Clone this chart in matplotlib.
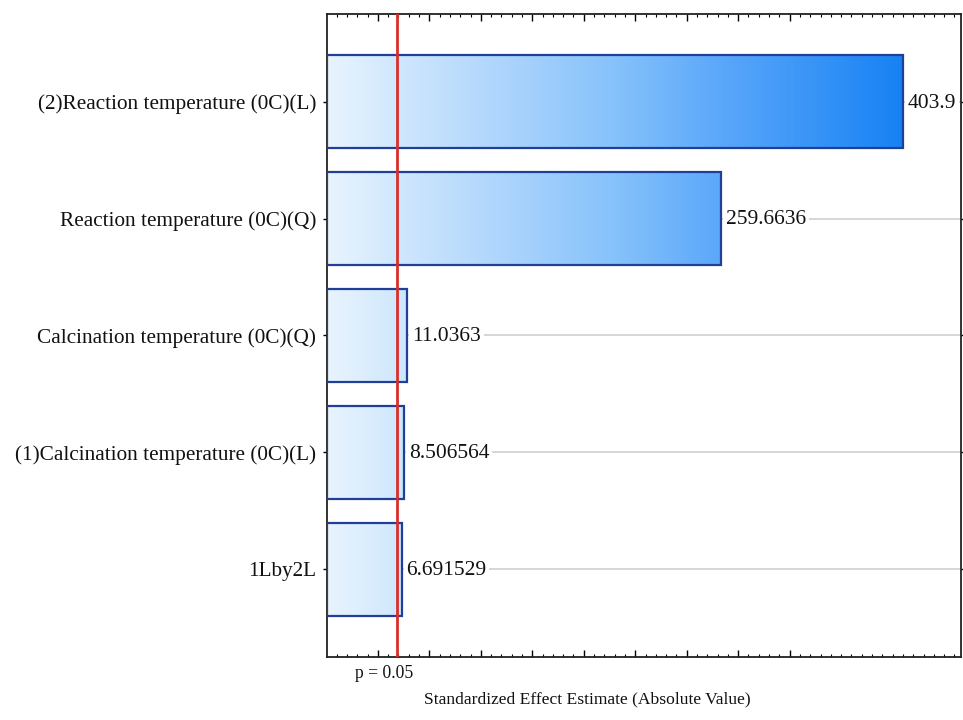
import numpy as np
import matplotlib
matplotlib.use("Agg")
import matplotlib.pyplot as plt
from matplotlib.colors import LinearSegmentedColormap
from matplotlib.ticker import AutoMinorLocator

categories = [
    "(2)Reaction temperature (0C)(L)",
    "Reaction temperature (0C)(Q)",
    "Calcination temperature (0C)(Q)",
    "(1)Calcination temperature (0C)(L)",
    "1Lby2L",
]
effects = [403.9, 259.6636, 11.0363, 8.506564, 6.691529]
value_labels = ["403.9", "259.6636", "11.0363", "8.506564", "6.691529"]
p_crit = 3.0

plt.rcParams['font.family'] = ['Liberation Serif', 'DejaVu Serif']

fig = plt.figure(figsize=(9.63, 7.2), dpi=100)
ax = fig.add_axes([327/963, 1-657/720, (961-327)/963, (657-14)/720])

xmin, xmax = -52.5, 450
n = len(categories)

cmap = LinearSegmentedColormap.from_list(
    "g", [(0.0, "#e8f4fe"), (0.33, "#a8d2fc"), (0.5, "#86c2fb"),
          (0.67, "#5ea9fa"), (1.0, "#1782f4")])
grad = np.linspace(0, 1, 256).reshape(1, -1)

ypos = np.arange(n)
for y in ypos:
    ax.axhline(y, color="#d0d0d0", lw=1.2, zorder=0.5)

bars = ax.barh(ypos, [e - xmin for e in effects], left=xmin, height=0.8,
               facecolor="none", edgecolor="#1f4096", linewidth=1.6, zorder=3)
for b in bars:
    im = ax.imshow(grad, extent=[xmin, max(effects), -0.75, n], aspect="auto",
                   cmap=cmap, zorder=2, interpolation="bilinear")
    im.set_clip_path(b)

ax.set_xlim(xmin, xmax)
ax.set_ylim(n - 0.25, -0.75)

for y, e, t in zip(ypos, effects, value_labels):
    ax.annotate(t, xy=(e, y), xytext=(3.5, -1), textcoords="offset points",
                ha="left", va="center", fontsize=15.5, color="#111111", zorder=2.5,
                bbox=dict(facecolor="white", edgecolor="none", pad=2))

ax.axvline(p_crit, color="#d8302c", lw=2, zorder=4)
ax.annotate("p = 0.05", xy=(p_crit, 0), xycoords=("data", "axes fraction"),
            xytext=(-9, -12), textcoords="offset points", ha="center", va="center",
            fontsize=12.7, color="#111111")

ax.set_yticks(ypos)
ax.set_yticklabels(categories, fontsize=15.3, color="#111111")
ax.tick_params(axis="y", direction="out", length=3, width=1, pad=5, right=True)

ax.set_xticks(np.arange(-12.2, 320, 40.8))
ax.xaxis.set_minor_locator(AutoMinorLocator(5))
ax.tick_params(axis="x", which="major", direction="in", length=5, width=1, top=True,
               labelbottom=False)
ax.tick_params(axis="x", which="minor", direction="in", length=2.5, width=0.8, top=True)

for s in ax.spines.values():
    s.set_linewidth(1.3)
    s.set_color("#222222")

fig.text(587/963, 1-699/720, "Standardized Effect Estimate (Absolute Value)",
         ha="center", va="center", fontsize=12.6, color="#111111")

fig.savefig("out.png", dpi=100)
